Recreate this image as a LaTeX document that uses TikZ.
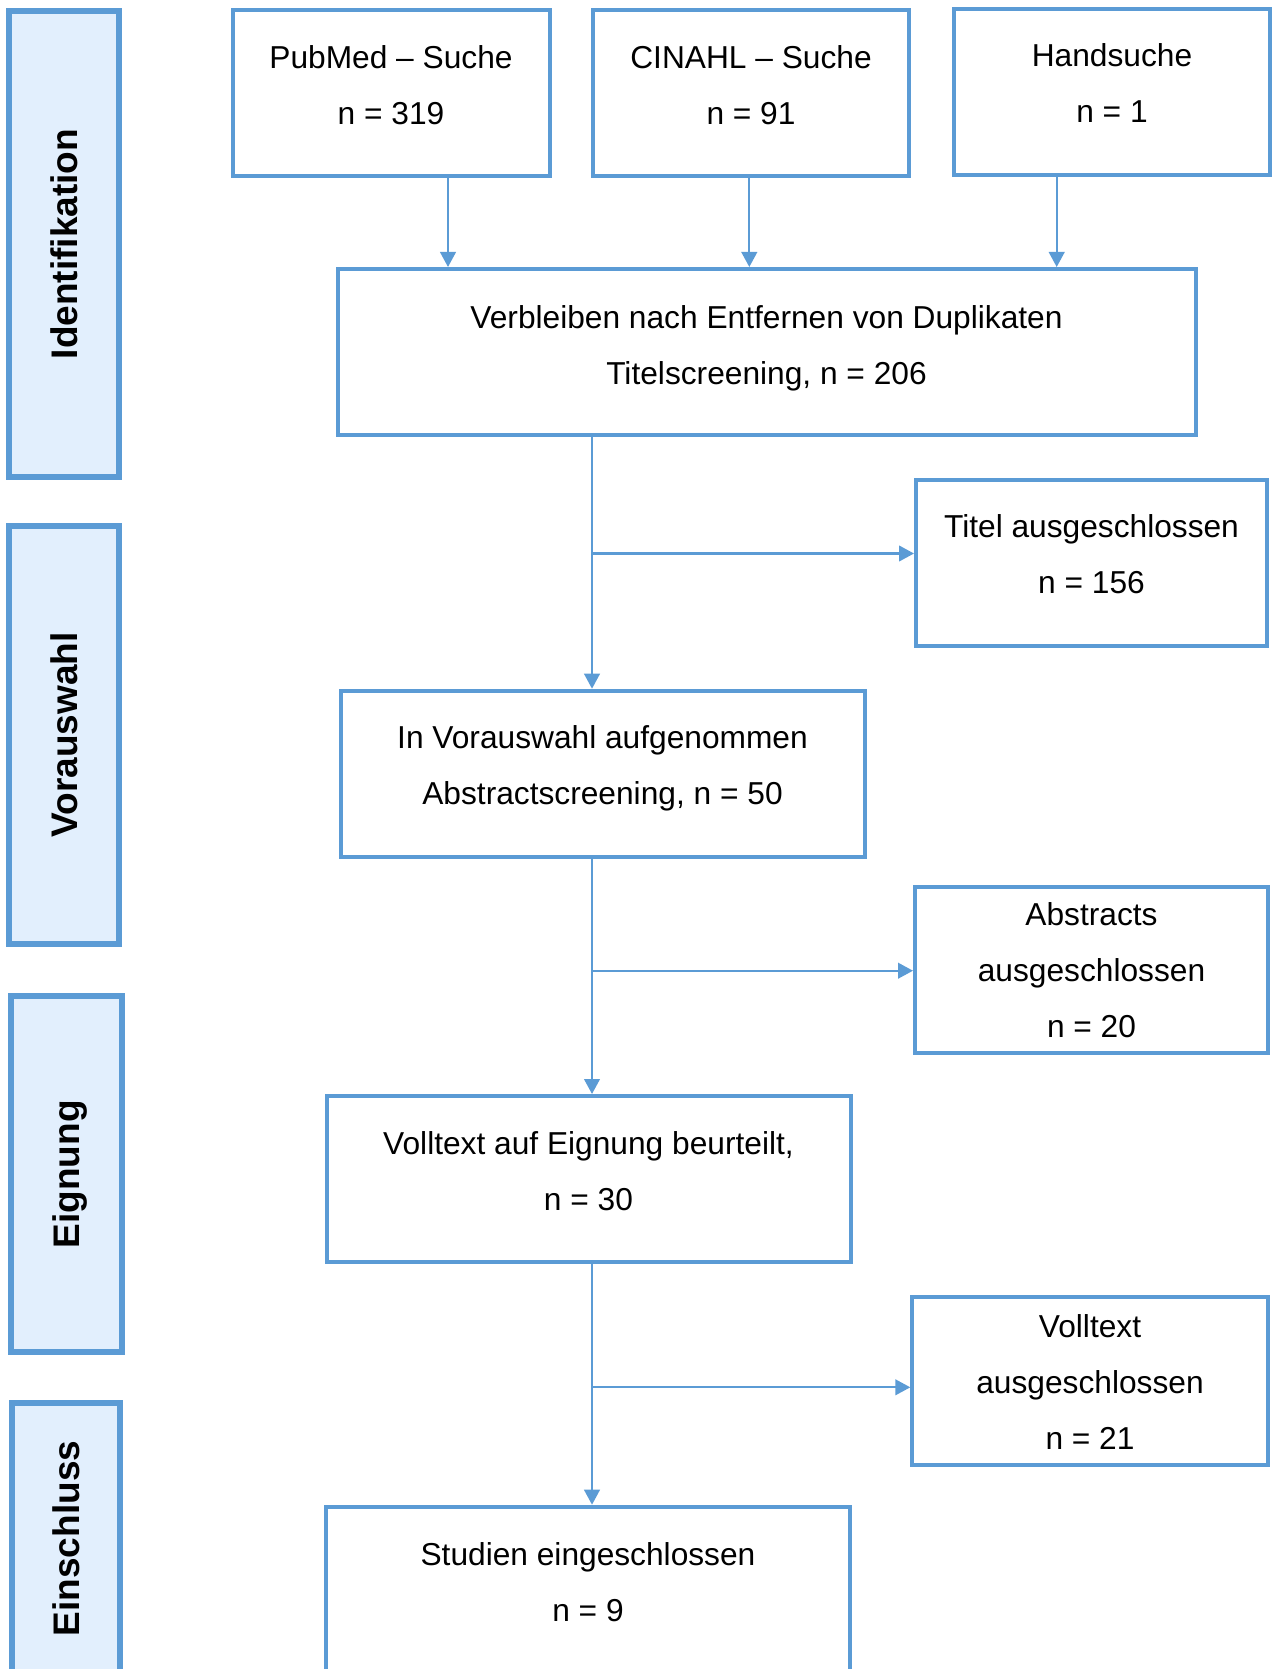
\documentclass[tikz,border=0pt]{standalone}
\usepackage{fontspec}
\setmainfont{Liberation Sans}
\usetikzlibrary{arrows.meta}
\definecolor{bord}{HTML}{5B9BD5}
\definecolor{pfill}{HTML}{E2EFFD}
\begin{document}
\begin{tikzpicture}[x=0.5pt,y=-0.5pt,
  box/.style={draw=bord,line width=2pt,inner sep=0pt,anchor=north west,minimum height=83pt},
  panel/.style={draw=bord,fill=pfill,line width=3pt,inner sep=0pt,rotate=90,
    font=\fontsize{18.5}{22}\selectfont\bfseries,text depth=0pt},
  txt/.style={align=center,font=\fontsize{15.85}{28}\selectfont,text depth=0pt,inner sep=0pt},
  arr/.style={draw=bord,line width=1.15pt,-{Triangle[length=7.5pt,width=7.8pt]}}]
\useasboundingbox (0,0) rectangle (1272,1669);
\clip (0,0) rectangle (1272,1669);

% phase panels
\node[panel,minimum width=233pt,minimum height=55.15pt] (p1) at (63.85,244) {Identifikation};
\node[panel,minimum width=209.35pt,minimum height=55.15pt] (p2) at (63.85,735) {Vorauswahl};
\node[panel,minimum width=177.85pt,minimum height=55.5pt] (p3) at (66.5,1174.2) {Eignung};
\node[panel,minimum width=135.5pt,minimum height=54.25pt] (p4) at (65.75,1538.5) {Einschluss};

% boxes (anchors at outer stroke edge)
\node[box,minimum width=158.25pt] (pub) at (231,8) {};
\node[box,minimum width=158.15pt] (cin) at (590.7,8) {};
\node[box,minimum width=158pt] (hand) at (952,7.5) {};
\node[box,minimum width=428.75pt] (ver) at (336,267) {};
\node[box,minimum width=175.5pt] (tit) at (914,478) {};
\node[box,minimum width=262pt] (vor) at (338.5,688.7) {};
\node[box,minimum width=176.5pt] (abs) at (913,884.5) {};
\node[box,minimum width=262pt] (voll) at (324.6,1094) {};
\node[box,minimum width=177.85pt,minimum height=84pt] (vex) at (910.3,1295.3) {};
\node[box,minimum width=262pt,minimum height=91.65pt] (stud) at (323.6,1504.7) {};

% texts
\node[txt] (pubt) at (391,84.6) {PubMed – Suche\\n = 319};
\node[txt] (cint) at (751,84.6) {CINAHL – Suche\\n = 91};
\node[txt] (handt) at (1112,83.5) {Handsuche\\n = 1};
\node[txt] (vert) at (766.5,345.4) {Verbleiben nach Entfernen von Duplikaten\\Titelscreening, n = 206};
\node[txt] (titt) at (1091.5,554) {Titel ausgeschlossen\\n = 156};
\node[txt] (vort) at (602.5,765.3) {In Vorauswahl aufgenommen\\Abstractscreening, n = 50};
\node[txt] (abst) at (1091.5,969.7) {Abstracts\\ausgeschlossen\\n = 20};
\node[txt] (vollt) at (588.5,1171) {Volltext auf Eignung beurteilt,\\n = 30};
\node[txt] (vext) at (1090,1382.3) {Volltext\\ausgeschlossen\\n = 21};
\node[txt] (studt) at (588,1581.7) {Studien eingeschlossen\\n = 9};

% connector guides
\coordinate (c1) at (448,0);
\coordinate (c2) at (749.3,0);
\coordinate (c3) at (1056.7,0);
\coordinate (tr) at (592,0);
\coordinate (b1) at (592,553.5);
\coordinate (b2) at (592,970.7);
\coordinate (b3) at (592,1387.3);

% connectors
\draw[arr] (pub.south -| c1) -- (ver.north -| c1);
\draw[arr] (cin.south -| c2) -- (ver.north -| c2);
\draw[arr] (hand.south -| c3) -- (ver.north -| c3);
\draw[arr] (ver.south -| tr) -- (vor.north -| tr);
\draw[arr] (b1) -- (tit.west |- b1);
\draw[arr] (vor.south -| tr) -- (voll.north -| tr);
\draw[arr] (b2) -- (abs.west |- b2);
\draw[arr] (voll.south -| tr) -- (stud.north -| tr);
\draw[arr] (b3) -- (vex.west |- b3);
\end{tikzpicture}
\end{document}
